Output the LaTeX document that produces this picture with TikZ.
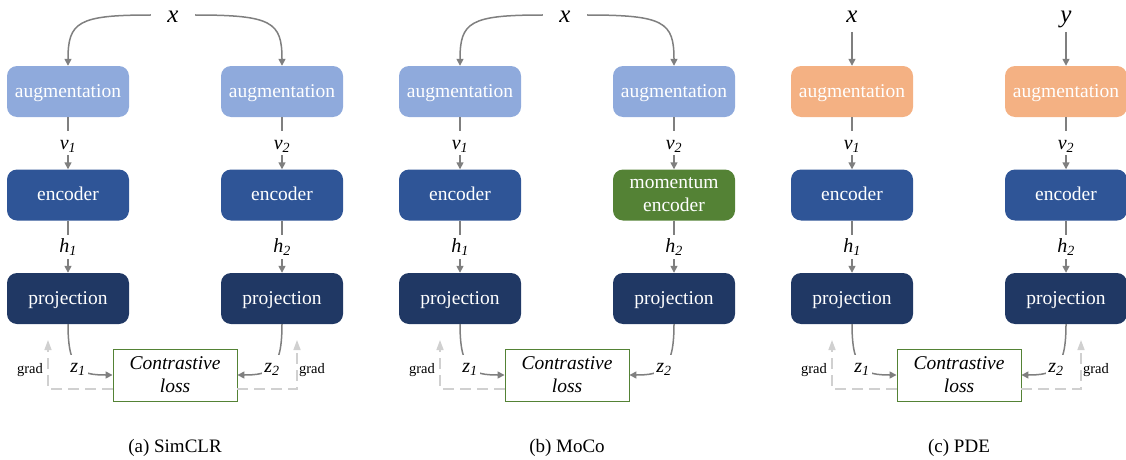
\documentclass[tikz,border=0pt]{standalone}
\usepackage{fontspec}
\setmainfont{Liberation Serif}
\usetikzlibrary{arrows.meta,calc}
\definecolor{augblue}{HTML}{8FAADC}
\definecolor{encblue}{HTML}{2F5597}
\definecolor{projblue}{HTML}{203864}
\definecolor{momgreen}{HTML}{548235}
\definecolor{augorange}{HTML}{F4B183}
\definecolor{arrgray}{HTML}{7F7F7F}
\definecolor{gradgray}{HTML}{D0D0D0}
\definecolor{lossgreen}{HTML}{548235}
\tikzset{
 blk/.style={rounded corners=10pt, minimum width=122pt, minimum height=51pt, inner sep=0pt, text=white, font=\fontsize{19.5}{23}\selectfont, align=center},
 oneline/.style={text height=14pt, text depth=3pt},
 augb/.style={blk, oneline, fill=augblue},
 augo/.style={blk, oneline, fill=augorange},
 encb/.style={blk, oneline, fill=encblue},
 momb/.style={blk, fill=momgreen},
 projb/.style={blk, oneline, fill=projblue},
 lossb/.style={draw=lossgreen, line width=0.9pt, fill=white, minimum width=124pt, minimum height=52pt, inner sep=0pt, align=center, font=\fontsize{19.5}{23}\selectfont\itshape},
 arr/.style={draw=arrgray, line width=1.5pt, -{Triangle[length=7pt,width=7pt]}},
 lbl/.style={fill=white, inner xsep=2pt, inner ysep=3pt, text height=15pt, text depth=3pt, font=\fontsize{20}{24}\selectfont\itshape},
 gradarr/.style={draw=gradgray, line width=1.5pt, dash pattern=on 11pt off 6pt, -{Triangle[length=10pt,width=7pt]}},
 gradlbl/.style={font=\fontsize{14.5}{17}\selectfont},
 inp/.style={font=\fontsize{25}{30}\selectfont\itshape, inner sep=0pt},
 captxt/.style={font=\fontsize{19}{23}\selectfont},
}
\begin{document}
\begin{tikzpicture}[x=1pt,y=-1pt]
\useasboundingbox (0,0) rectangle (1126,460);
% ---------------- (a) SimCLR
\node[inp, minimum width=44pt] (ax) at (173,17) {x};
\node[augb] (a1a) at (68,91.5) {augmentation};
\node[augb] (a2a) at (282,91.5) {augmentation};
\node[encb] (a1e) at (68,195) {encoder};
\node[encb] (a2e) at (282,195) {encoder};
\node[projb] (a1p) at (68,298.5) {projection};
\node[projb] (a2p) at (282,298.5) {projection};
\node[lossb] (al) at (175,375) {Contrastive\\loss};
\draw[arr] ([yshift=2pt]ax.west) .. controls (78,15) and (68,22) .. (a1a.north);
\draw[arr] ([yshift=2pt]ax.east) .. controls (272,15) and (282,22) .. (a2a.north);
\draw[arr] (a1a) -- node[lbl] {v\textsubscript{1}} (a1e);
\draw[arr] (a2a) -- node[lbl] {v\textsubscript{2}} (a2e);
\draw[arr] (a1e) -- node[lbl] {h\textsubscript{1}} (a1p);
\draw[arr] (a2e) -- node[lbl] {h\textsubscript{2}} (a2p);
\draw[arr] (a1p.south) .. controls (68,370) and (80,375) .. node[lbl, pos=0.5] {z\textsubscript{1}} (al.west);
\draw[arr] (a2p.south) .. controls (282,370) and (270,375) .. node[lbl, pos=0.5] {z\textsubscript{2}} (al.east);
\coordinate (ag1) at (48,340);
\coordinate (ag2) at (297,340);
\draw[gradarr] ([yshift=-14pt]al.west) -| (ag1);
\draw[gradarr] ([yshift=-14pt]al.east) -| (ag2);
\node[gradlbl] (agl1) at (30,370) {grad};
\node[gradlbl] (agl2) at (312,370) {grad};
\node[captxt] (acap) at (175,448) {(a) SimCLR};
% ---------------- (b) MoCo
\begin{scope}[xshift=392pt]
\node[inp, minimum width=44pt] (bx) at (173,17) {x};
\node[augb] (b1a) at (68,91.5) {augmentation};
\node[augb] (b2a) at (282,91.5) {augmentation};
\node[encb] (b1e) at (68,195) {encoder};
\node[momb] (b2e) at (282,195) {momentum\\encoder};
\node[projb] (b1p) at (68,298.5) {projection};
\node[projb] (b2p) at (282,298.5) {projection};
\node[lossb] (bl) at (175,375) {Contrastive\\loss};
\draw[arr] ([yshift=2pt]bx.west) .. controls (78,15) and (68,22) .. (b1a.north);
\draw[arr] ([yshift=2pt]bx.east) .. controls (272,15) and (282,22) .. (b2a.north);
\draw[arr] (b1a) -- node[lbl] {v\textsubscript{1}} (b1e);
\draw[arr] (b2a) -- node[lbl] {v\textsubscript{2}} (b2e);
\draw[arr] (b1e) -- node[lbl] {h\textsubscript{1}} (b1p);
\draw[arr] (b2e) -- node[lbl] {h\textsubscript{2}} (b2p);
\draw[arr] (b1p.south) .. controls (68,370) and (80,375) .. node[lbl, pos=0.5] {z\textsubscript{1}} (bl.west);
\draw[arr] (b2p.south) .. controls (282,370) and (270,375) .. node[lbl, pos=0.5] {z\textsubscript{2}} (bl.east);
\coordinate (bg1) at (48,340);
\draw[gradarr] ([yshift=-14pt]bl.west) -| (bg1);
\node[gradlbl] (bgl1) at (30,370) {grad};
\node[captxt] (bcap) at (175,448) {(b) MoCo};
\end{scope}
% ---------------- (c) PDE
\begin{scope}[xshift=784pt]
\node[inp, anchor=base] (cx) at (68,23) {x};
\node[inp, anchor=base] (cy) at (282,23) {y};
\node[augo] (c1a) at (68,91.5) {augmentation};
\node[augo] (c2a) at (282,91.5) {augmentation};
\node[encb] (c1e) at (68,195) {encoder};
\node[encb] (c2e) at (282,195) {encoder};
\node[projb] (c1p) at (68,298.5) {projection};
\node[projb] (c2p) at (282,298.5) {projection};
\node[lossb] (cl) at (175,375) {Contrastive\\loss};
\draw[arr, shorten <=9pt] (cx.base) -- (c1a.north);
\draw[arr, shorten <=9pt] (cy.base) -- (c2a.north);
\draw[arr] (c1a) -- node[lbl] {v\textsubscript{1}} (c1e);
\draw[arr] (c2a) -- node[lbl] {v\textsubscript{2}} (c2e);
\draw[arr] (c1e) -- node[lbl] {h\textsubscript{1}} (c1p);
\draw[arr] (c2e) -- node[lbl] {h\textsubscript{2}} (c2p);
\draw[arr] (c1p.south) .. controls (68,370) and (80,375) .. node[lbl, pos=0.5] {z\textsubscript{1}} (cl.west);
\draw[arr] (c2p.south) .. controls (282,370) and (270,375) .. node[lbl, pos=0.5] {z\textsubscript{2}} (cl.east);
\coordinate (cg1) at (48,340);
\coordinate (cg2) at (297,340);
\draw[gradarr] ([yshift=-14pt]cl.west) -| (cg1);
\draw[gradarr] ([yshift=-14pt]cl.east) -| (cg2);
\node[gradlbl] (cgl1) at (30,370) {grad};
\node[gradlbl] (cgl2) at (312,370) {grad};
\node[captxt] (ccap) at (175,448) {(c) PDE};
\end{scope}
\end{tikzpicture}
\end{document}
